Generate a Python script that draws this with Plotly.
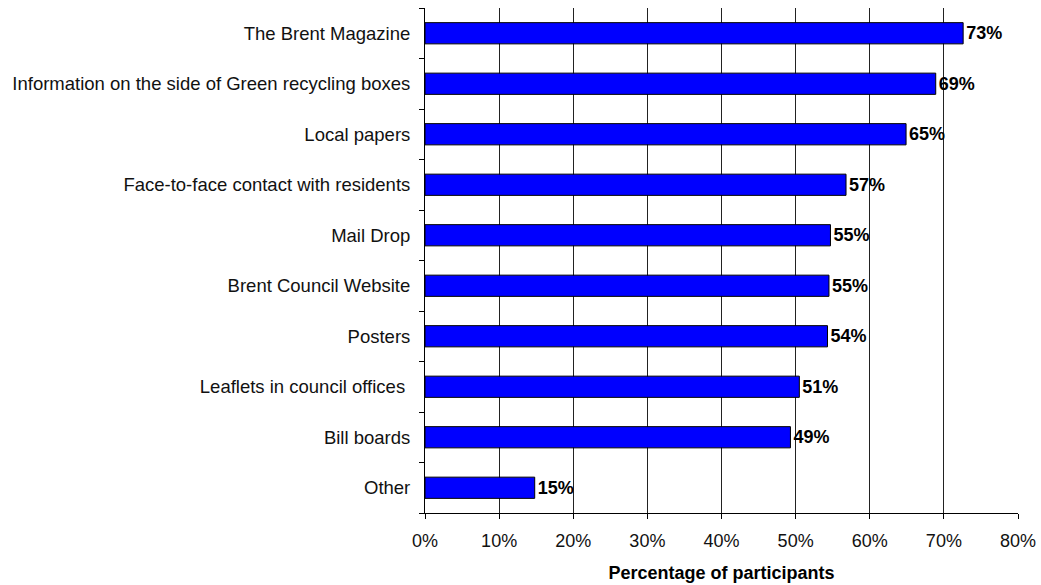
import plotly.graph_objects as go

categories = [
    "The Brent Magazine",
    "Information on the side of Green recycling boxes",
    "Local papers",
    "Face-to-face contact with residents",
    "Mail Drop",
    "Brent Council Website",
    "Posters",
    "Leaflets in council offices ",
    "Bill boards",
    "Other",
]
values = [72.6, 68.9, 64.9, 56.8, 54.7, 54.5, 54.3, 50.5, 49.3, 14.8]
labels = ["73%", "69%", "65%", "57%", "55%", "55%", "54%", "51%", "49%", "15%"]
x_ticks = [0, 10, 20, 30, 40, 50, 60, 70, 80]
x_ticklabels = ["0%", "10%", "20%", "30%", "40%", "50%", "60%", "70%", "80%"]

FONT = "Liberation Sans, Arial, sans-serif"
FS = 18

fig = go.Figure(
    go.Bar(
        y=categories,
        x=values,
        orientation="h",
        width=0.42,
        marker=dict(color="#0000FF", line=dict(color="black", width=1)),
        text=["<b>%s</b>" % t for t in labels],
        textposition="outside",
        textfont=dict(family=FONT, size=FS, color="black"),
        cliponaxis=False,
    )
)

fig.update_layout(
    width=1041,
    height=585,
    margin=dict(l=425, r=23, t=8, b=72),
    paper_bgcolor="white",
    plot_bgcolor="white",
    showlegend=False,
    font=dict(family=FONT, size=FS, color="black"),
)

fig.update_xaxes(
    range=[0, 80],
    tickvals=x_ticks,
    ticktext=x_ticklabels,
    showgrid=True,
    gridcolor="#222222",
    gridwidth=1,
    zeroline=False,
    showline=True,
    linecolor="black",
    linewidth=1,
    ticks="outside",
    ticklen=5,
    tickcolor="black",
    tickfont=dict(family=FONT, size=FS, color="#111111"),
    ticklabelstandoff=6,
    title=dict(text="<b>Percentage of participants</b>", font=dict(family=FONT, size=FS, color="black"), standoff=16),
    automargin=False,
)

fig.update_yaxes(
    categoryorder="array",
    categoryarray=categories[::-1],
    autorange=False,
    range=[-0.5, len(categories) - 0.5],
    showgrid=False,
    zeroline=False,
    showline=True,
    linecolor="black",
    linewidth=1,
    ticks="outside",
    tickson="boundaries",
    ticklen=5,
    tickcolor="black",
    tickfont=dict(family=FONT, size=18.5, color="#111111"),
    ticklabelstandoff=10,
    automargin=False,
)

fig.write_html("out.html")
